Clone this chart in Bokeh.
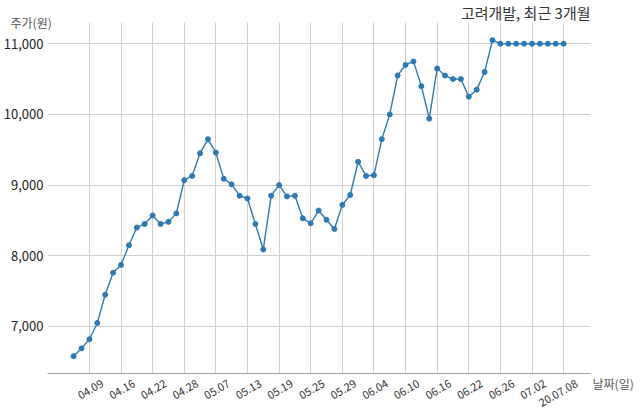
import math
from bokeh.plotting import figure
from bokeh.models import FixedTicker, LinearAxis, Range1d, ColumnDataSource, Title
from bokeh.embed import file_html
from bokeh.resources import INLINE

# Trading-day dates (2020) and closing prices (KRW)
dates = ["04.07", "04.08", "04.09", "04.10", "04.13", "04.14", "04.16", "04.17",
         "04.20", "04.21", "04.22", "04.23", "04.24", "04.27", "04.28", "04.29",
         "05.04", "05.06", "05.07", "05.08", "05.11", "05.12", "05.13", "05.14",
         "05.15", "05.18", "05.19", "05.20", "05.21", "05.22", "05.25", "05.26",
         "05.27", "05.28", "05.29", "06.01", "06.02", "06.03", "06.04", "06.05",
         "06.08", "06.09", "06.10", "06.11", "06.12", "06.15", "06.16", "06.17",
         "06.18", "06.19", "06.22", "06.23", "06.24", "06.25", "06.26", "06.29",
         "06.30", "07.01", "07.02", "07.03", "07.06", "07.07", "20.07.08"]
prices = [6580, 6690, 6820, 7050, 7450, 7760, 7870, 8150, 8400, 8450,
          8570, 8450, 8480, 8600, 9070, 9130, 9450, 9650, 9460, 9090,
          9010, 8850, 8810, 8450, 8090, 8850, 9000, 8840, 8850, 8530,
          8460, 8640, 8510, 8380, 8720, 8860, 9330, 9130, 9140, 9650,
          10000, 10550, 10700, 10750, 10400, 9940, 10650, 10550, 10500, 10500,
          10250, 10350, 10600, 11050, 11000, 11000, 11000, 11000, 11000, 11000,
          11000, 11000, 11000]
tick_idx = [2, 6, 10, 14, 18, 22, 26, 30, 34, 38, 42, 46, 50, 54, 58, 62]
y_ticks = [7000, 8000, 9000, 10000, 11000]
y_tick_labels = ["7,000", "8,000", "9,000", "10,000", "11,000"]
title_text = "고려개발, 최근 3개월"
y_label = "주가(원)"
x_label = "날짜(일)"

FONT = "Noto Sans CJK KR"
LINE = "#2f79b1"
GRID = "#cfcfcf"
ANG = math.pi / 6

X0, X1 = -3.3, 65.4
Y0, Y1 = 6335, 11300
SHIFT = 1.65   # label range offset so rotated labels sit centred under their grid line

src = ColumnDataSource(dict(x=list(range(len(prices))), y=prices))

FW, FH = 543, 351
p = figure(frame_width=FW, frame_height=FH, output_backend="svg", toolbar_location=None,
           x_range=(X0, X1), y_range=(Y0, Y1),
           min_border_left=42, min_border_right=40, min_border_top=22, min_border_bottom=36)
p.outline_line_color = None
p.background_fill_color = "white"
p.border_fill_color = "white"

# title (top right, outermost above-panel)
p.title.text = title_text
p.title.align = "right"
p.title.text_font = FONT
p.title.text_font_size = "15px"
p.title.text_font_style = "normal"
p.title.text_color = "#333333"
p.title.standoff = -4

# unit caption of the value axis (top left, inner above-panel of small height)
cap = Title(text=y_label, align="left", offset=-37, standoff=-17.5,
            text_font=FONT, text_font_size="12px", text_font_style="normal",
            text_color="#555555")
p.add_layout(cap, "above")

p.line("x", "y", source=src, line_color=LINE, line_width=1.4)
p.scatter("x", "y", source=src, size=5, fill_color=LINE, line_color=LINE)

# x axis (labels on a slightly shifted copy of the index range)
p.extra_x_ranges = {"lab": Range1d(X0 - SHIFT, X1 - SHIFT)}
xa = p.xaxis[0]
xa.x_range_name = "lab"
xa.ticker = FixedTicker(ticks=tick_idx)
xa.major_label_overrides = {i: dates[i] for i in tick_idx}
xa.major_label_orientation = ANG
xa.major_tick_out = 0
xa.major_tick_in = 0
xa.minor_tick_out = 0
xa.minor_tick_in = 0
xa.axis_line_color = "#a0a0a0"
xa.major_label_text_font = FONT
xa.major_label_text_font_size = "11px"
xa.major_label_text_color = "#333333"
xa.major_label_standoff = 9

# y axis
ya = p.yaxis[0]
ya.ticker = FixedTicker(ticks=y_ticks)
ya.major_label_overrides = {v: l for v, l in zip(y_ticks, y_tick_labels)}
ya.axis_line_color = None
ya.major_tick_out = 0
ya.major_tick_in = 0
ya.minor_tick_out = 0
ya.minor_tick_in = 0
ya.major_label_text_font = FONT
ya.major_label_text_font_size = "13px"
ya.major_label_text_color = "#222222"
ya.major_label_standoff = 4

# right axis carrying the x-axis caption next to the axis line
ra = LinearAxis(ticker=FixedTicker(ticks=[Y0 + 1]),
                major_label_overrides={Y0 + 1: " \n" + x_label})
ra.axis_line_color = None
ra.major_tick_out = 0
ra.major_tick_in = 0
ra.minor_tick_out = 0
ra.minor_tick_in = 0
ra.major_label_text_font = FONT
ra.major_label_text_font_size = "12px"
ra.major_label_text_color = "#555555"
ra.major_label_standoff = 2
p.add_layout(ra, "right")

p.xgrid[0].ticker = FixedTicker(ticks=tick_idx)
p.ygrid[0].ticker = FixedTicker(ticks=y_ticks)
p.xgrid.grid_line_color = GRID
p.ygrid.grid_line_color = GRID
p.xgrid.grid_line_width = 1
p.ygrid.grid_line_width = 1

open("out.html", "w").write(file_html(p, INLINE))
